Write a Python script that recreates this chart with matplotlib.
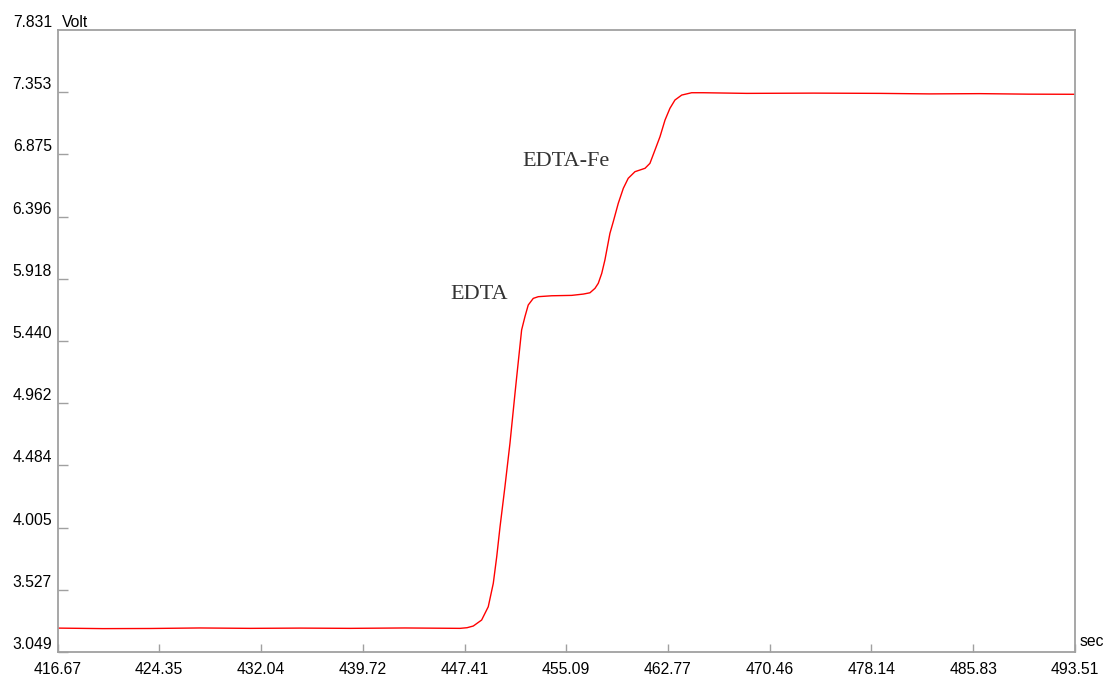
import numpy as np
import matplotlib.pyplot as plt

# titration record: time (s) vs electrode potential (V)
t = [416.67, 420.10, 423.66, 427.40, 431.21, 435.00, 438.76, 442.90, 447.07,
     447.60, 448.07, 448.70, 449.20, 449.58, 449.84, 450.09, 450.46, 450.84,
     451.22, 451.35, 451.72, 451.97, 452.22, 452.60, 452.98, 453.99, 455.50,
     456.38, 456.88, 457.26, 457.51, 457.77, 458.01, 458.39, 458.64, 459.02,
     459.40, 459.77, 460.28, 461.04, 461.41, 461.79, 462.17, 462.55, 462.92,
     463.30, 463.81, 464.56, 465.44, 468.72, 473.80, 478.78, 482.50, 486.33,
     490.00, 493.51]
volt = [3.233, 3.229, 3.230, 3.234, 3.231, 3.233, 3.231, 3.234, 3.231,
        3.236, 3.249, 3.295, 3.397, 3.577, 3.782, 4.012, 4.320, 4.654,
        5.038, 5.166, 5.525, 5.627, 5.717, 5.768, 5.781, 5.788, 5.791,
        5.801, 5.811, 5.845, 5.884, 5.960, 6.063, 6.268, 6.357, 6.499,
        6.614, 6.691, 6.742, 6.768, 6.806, 6.908, 7.011, 7.139, 7.229,
        7.293, 7.331, 7.349, 7.349, 7.344, 7.346, 7.344, 7.340, 7.342,
        7.338, 7.337]

xticks = [416.67, 424.35, 432.04, 439.72, 447.41, 455.09, 462.77, 470.46,
          478.14, 485.83, 493.51]
yticks = [3.049, 3.527, 4.005, 4.484, 4.962, 5.440, 5.918, 6.396, 6.875,
          7.353, 7.831]

labels = ['EDTA', 'EDTA-Fe']
label_x = [448.50, 455.07]
label_y = [5.801, 6.824]

plt.rcParams['font.family'] = ['Liberation Sans', 'DejaVu Sans']

fig = plt.figure(figsize=(11.08, 6.78), dpi=100)
ax = fig.add_axes([0.0519, 0.0383, 0.9183, 0.9174])

ax.plot(t, volt, color='#ff0000', lw=1.0, solid_joinstyle='round')

ax.set_xlim(xticks[0], xticks[-1])
ax.set_ylim(yticks[0], yticks[-1])
ax.set_xticks(xticks)
ax.set_xticklabels(['%.2f' % v for v in xticks])
ax.set_yticks(yticks[:-1])
ax.set_yticklabels(['%.3f' % v for v in yticks[:-1]])

for s in ax.spines.values():
    s.set_color('#a0a0a0')
    s.set_linewidth(1.3)

ax.tick_params(axis='x', direction='in', length=6, width=1, color='#a0a0a0',
               labelsize=11.3, pad=7)
ax.tick_params(axis='y', direction='in', length=7.5, width=1, color='#a0a0a0',
               labelsize=11.3, pad=4)
for lab in ax.get_yticklabels():
    lab.set_verticalalignment('bottom')

ax.text(-0.0047, 1.0, '7.831', transform=ax.transAxes, ha='right', va='bottom',
        fontsize=11.3)
ax.text(0.004, 1.0, 'Volt', transform=ax.transAxes, ha='left', va='bottom',
        fontsize=11.3)
ax.text(1.005, 0.005, 'sec', transform=ax.transAxes, ha='left', va='bottom',
        fontsize=11.3)

for name, x, y in zip(labels, label_x, label_y):
    ax.text(x, y, name, ha='center', va='center', fontsize=16,
            family='Liberation Serif', color='#333333')

fig.savefig('out.png', dpi=100)
